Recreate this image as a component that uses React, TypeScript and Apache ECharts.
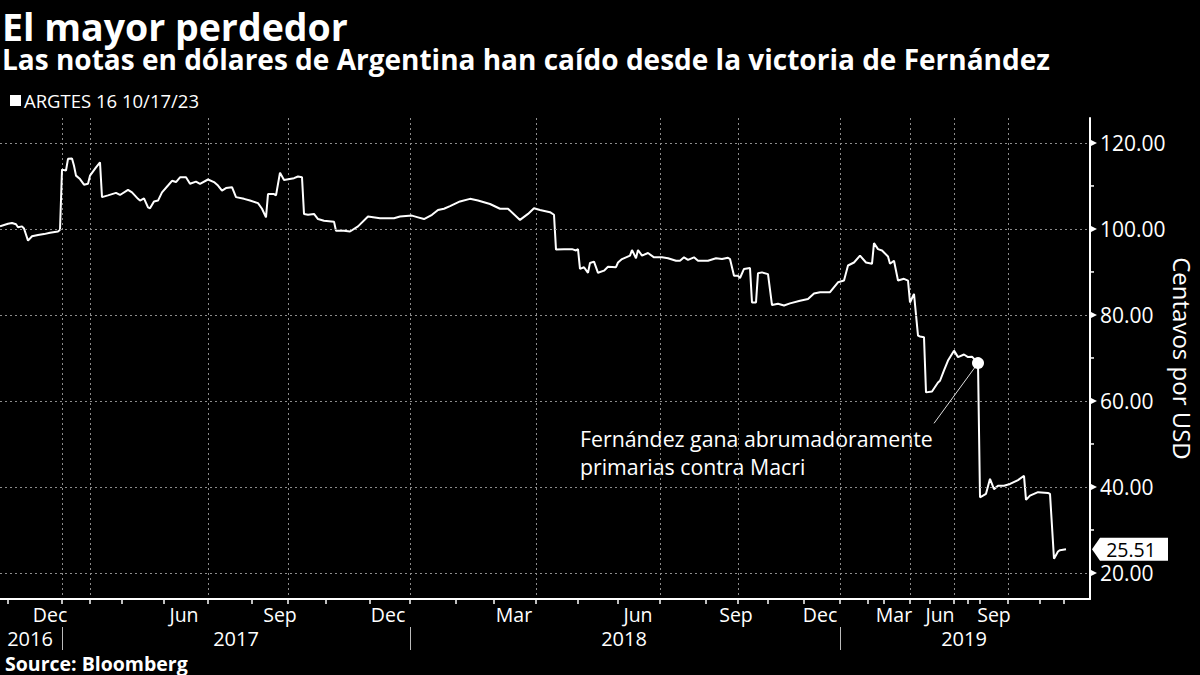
import React, { useEffect, useRef } from 'react';
import * as echarts from 'echarts';

// ---------- data ----------
const SERIES_NAME = 'ARGTES 16 10/17/23';
const OBS_COUNT = 546; // observation slots along the (irregular) Bloomberg time axis
const obs = [
  0, 4, 6, 8, 9, 11, 12, 14, 16, 19, 22, 25, 29, 30, 31, 33, 34, 36, 37, 38, 40, 42, 44, 45, 48, 50, 51,
  54, 58, 60, 64, 66, 69, 70, 72, 74, 75, 77, 79, 81, 84, 86, 88, 90, 93, 95, 98, 100, 104, 107, 109, 111,
  113, 116, 118, 122, 125, 129, 131, 133, 134, 137, 138, 140, 142, 147, 149, 151, 152, 154, 157, 159, 162,
  167, 168, 172, 175, 179, 184, 190, 197, 200, 206, 209, 212, 216, 219, 222, 225, 230, 235, 239, 245, 250,
  254, 260, 264, 267, 270, 275, 277, 278, 282, 286, 288, 289, 290, 292, 294, 295, 297, 299, 302, 304, 308,
  309, 311, 313, 315, 316, 318, 319, 321, 324, 327, 331, 334, 338, 340, 342, 344, 347, 349, 354, 358, 361,
  364, 365, 367, 369, 370, 372, 375, 376, 378, 379, 381, 384, 386, 389, 392, 395, 400, 404, 407, 410, 415,
  419, 422, 424, 427, 430, 433, 436, 437, 439, 441, 444, 445, 447, 449, 452, 454, 455, 457, 459, 460, 462,
  463, 466, 469, 470, 472, 474, 477, 479, 482, 484, 486, 489, 490, 493, 495, 497, 499, 502, 505, 509, 512,
  513, 515, 519, 524, 525, 527, 529, 530, 533,
];
const price = [
  100.6, 101.2, 101.4, 101.1, 100.4, 100.6, 100.1, 97.3, 98.3, 98.6, 98.8, 99.1, 99.4, 99.8, 113.8, 113.6,
  116.3, 116.4, 114.7, 112.4, 111.6, 110.3, 110.5, 112.4, 114.3, 115.5, 107.4,
  107.8, 108.4, 107.9, 109.1, 108.5, 107.0, 106.6, 107.1, 105.0, 104.8, 106.4, 106.6, 108.5, 110.1, 111.2,
  110.9, 112.0, 112.0, 110.5, 111.0, 110.5, 111.5, 110.9, 110.1, 108.9,
  109.5, 109.7, 107.4, 107.0, 106.6, 106.0, 104.7, 102.7, 108.1, 108.1, 107.8, 113.1, 111.4, 111.8, 112.2,
  112.0, 103.5, 103.3, 103.5, 102.3, 101.9,
  101.7, 99.6, 99.6, 99.4, 100.6, 102.9, 102.5, 102.5, 102.9, 103.1, 102.7, 102.3, 103.3, 104.4, 104.7,
  105.3, 106.4, 107.0, 106.6, 105.8, 104.7,
  104.7, 102.1, 103.5, 104.8, 104.4, 103.9, 103.3, 95.2, 95.3, 95.3, 95.0, 95.3, 90.7, 91.1, 89.8, 92.1,
  92.4, 89.8, 90.3, 91.2, 91.1,
  92.2, 93.0, 93.4, 93.8, 95.1, 93.2, 95.1, 93.8, 94.4, 93.4, 93.4, 93.2, 92.6, 92.6, 93.4, 92.8, 93.4,
  92.6, 92.6, 93.2, 93.0,
  93.3, 93.0, 89.1, 89.1, 88.6, 90.7, 90.9, 82.9, 82.9, 89.7, 89.9, 89.5, 82.3, 82.6, 82.2, 82.7, 83.3,
  83.7, 85.0, 85.3, 85.3,
  87.6, 88.0, 91.5, 92.2, 93.8, 92.2, 91.9, 96.7, 95.3, 95.0, 93.6, 91.9, 92.6, 88.0, 88.4, 88.0, 82.9,
  84.9, 75.2, 75.0, 74.8,
  62.0, 62.2, 64.3, 64.7, 67.1, 69.4, 71.7, 70.2, 70.8, 70.2, 70.3, 68.8, 37.6, 38.4, 41.9, 39.5, 40.3,
  40.3, 40.7, 41.6, 42.6,
  37.0, 38.0, 38.8, 38.6, 38.4, 23.3, 25.0, 25.3, 25.51,
];
const tickObs = [4, 31, 45, 61, 82, 104, 126, 144, 163, 185, 205, 228, 247, 268, 289, 309, 330, 353, 369,
  384, 402, 420, 434, 442, 455, 465, 477, 484, 490, 504, 520, 532];
const gridObs = [31, 45, 104, 144, 205, 268, 330, 369, 420, 455, 477, 504];
const monthLabelObs = [25, 92, 140, 194, 257, 319, 368, 410, 447, 470, 497];
const monthLabels = ['Dec', 'Jun', 'Sep', 'Dec', 'Mar', 'Jun', 'Sep', 'Dec', 'Mar', 'Jun', 'Sep'];
const yearLabelObs = [15, 118, 312, 482];
const yearLabels = ['2016', '2017', '2018', '2019'];
const yearSepObs = [31, 205, 420];
const yTicks = [20, 40, 60, 80, 100, 120];
const yMinorTicks = [30, 50, 70, 90, 110];
const Y_MIN = 13.95;
const Y_MAX = 125.8;
const EVENT_OBS = 489;
const EVENT_VALUE = 68.8;
const ANNOTATION = ['Fernández gana abrumadoramente', 'primarias contra Macri'];

const FONT = '"Open Sans", "Noto Sans", sans-serif';

export default function App() {
  const ref = useRef<HTMLDivElement>(null);
  useEffect(() => {
    if (!ref.current) return;
    document.documentElement.style.overflow = 'hidden';
    const chart = echarts.init(ref.current, null, { renderer: 'svg', width: 1200, height: 675 });
    const cats = Array.from({ length: OBS_COUNT }, (_, i) => String(i));
    const lastObs = OBS_COUNT - 1;
    const lastValue = price[price.length - 1];
    const tickSet = new Set(tickObs);
    const gridSet = new Set(gridObs);
    const monthMap: Record<number, string> = {};
    monthLabelObs.forEach((o, i) => (monthMap[o] = monthLabels[i]));
    const yearMap: Record<number, string> = {};
    yearLabelObs.forEach((o, i) => (yearMap[o] = yearLabels[i]));
    const yearSepSet = new Set(yearSepObs);
    const lineData = obs.map((o, i) => [o, price[i]]);

    const option: any = {
      animation: false,
      backgroundColor: '#000',
      textStyle: { fontFamily: FONT },
      grid: { left: 0, right: 110, top: 118, bottom: 76, containLabel: false, outerBoundsMode: 'none' },
      legend: {
        left: 10, top: 91, padding: 0, itemWidth: 11, itemHeight: 11, itemGap: 6,
        data: [{ name: SERIES_NAME, icon: 'rect' }],
        textStyle: { color: '#fff', fontSize: 18.5, fontFamily: FONT, padding: [0, 0, 0, -2] },
        selectedMode: false,
      },
      xAxis: [
        {
          type: 'category', data: cats, boundaryGap: false, position: 'bottom',
          axisLine: { lineStyle: { color: '#fff', width: 2 } },
          axisTick: { show: true, interval: (i: number) => tickSet.has(i), length: 5, lineStyle: { color: '#fff', width: 1.5 } },
          axisLabel: {
            interval: (i: number) => monthMap[i] !== undefined,
            formatter: (v: string) => monthMap[Number(v)] ?? '',
            color: '#fff', fontSize: 19.5, lineHeight: 20, margin: 5, fontFamily: FONT,
          },
          splitLine: { show: true, interval: (i: number) => gridSet.has(i), lineStyle: { color: '#8c8c8c', width: 1, type: [2, 3] } },
        },
        {
          type: 'category', data: cats, boundaryGap: false, position: 'bottom', offset: 28,
          axisLine: { show: false },
          axisTick: { show: true, interval: (i: number) => yearSepSet.has(i), length: 23, lineStyle: { color: '#bbb', width: 1 } },
          axisLabel: {
            interval: (i: number) => yearMap[i] !== undefined,
            formatter: (v: string) => yearMap[Number(v)] ?? '',
            color: '#fff', fontSize: 20, lineHeight: 20, margin: 1, fontFamily: FONT,
          },
          splitLine: { show: false },
        },
      ],
      yAxis: {
        type: 'value', position: 'right', min: Y_MIN, max: Y_MAX,
        axisLine: { show: true, lineStyle: { color: '#fff', width: 2 } },
        axisTick: { show: false },
        splitLine: { show: false },
        axisLabel: {
          color: '#fff', fontSize: 21, lineHeight: 20, margin: 10, fontFamily: FONT,
          formatter: (v: number) => (yTicks.includes(v) ? v.toFixed(2) : ''),
        },
        name: 'Centavos por USD', nameLocation: 'middle', nameRotate: -90, nameGap: 80,
        nameMoveOverlap: false,
        nameTextStyle: { color: '#fff', fontSize: 24, fontFamily: FONT },
      },
      series: [
        {
          name: 'minor', type: 'scatter', xAxisIndex: 0, z: 1, silent: true,
          data: yMinorTicks.map((v) => [lastObs, v]),
          symbol: 'rect', symbolSize: [4, 1.5], symbolOffset: [2, 0],
          itemStyle: { color: '#fff', opacity: 1 },
          markLine: {
            silent: true, symbol: 'none', label: { show: false },
            lineStyle: { color: '#8c8c8c', width: 1, type: [2, 3] },
            data: yTicks.map((v) => ({ yAxis: v })),
          },
        },
        {
          name: 'major', type: 'scatter', xAxisIndex: 0, z: 4, silent: true,
          data: yTicks.map((v) => [lastObs, v]),
          symbol: 'triangle', symbolRotate: -90, symbolSize: [7, 7], symbolOffset: [3.5, 0],
          itemStyle: { color: '#fff', opacity: 1 },
        },
        {
          name: SERIES_NAME, type: 'line', xAxisIndex: 0, z: 3,
          data: lineData, showSymbol: false, symbol: 'none',
          lineStyle: { color: '#fff', width: 2 }, itemStyle: { color: '#fff' },
          markPoint: {
            silent: true, symbol: 'circle', symbolSize: 12,
            itemStyle: { color: '#fff' }, label: { show: false },
            data: [{ coord: [EVENT_OBS, EVENT_VALUE] }],
          },
          markLine: {
            silent: true, symbol: 'none', label: { show: false },
            lineStyle: { color: '#ddd', width: 1, type: 'solid' },
            data: [[{ coord: [EVENT_OBS, EVENT_VALUE] }, { coord: [EVENT_OBS - 22, EVENT_VALUE - 14] }]],
          },
        },
        {
          name: 'last', type: 'scatter', xAxisIndex: 0, z: 5, silent: true,
          data: [[lastObs, lastValue]],
          symbol: 'path://M0,11.5 L8,0 L76,0 L76,23 L8,23 Z', symbolSize: [76, 23], symbolOffset: [40, 0],
          symbolKeepAspect: false,
          itemStyle: { color: '#fff', opacity: 1 },
          label: {
            show: true, position: 'inside', color: '#000', fontSize: 19.5, lineHeight: 18, fontFamily: FONT,
            formatter: () => lastValue.toFixed(2), offset: [1, 0],
          },
        },
      ],
      graphic: [
        { type: 'text', left: 2, top: 7, style: { text: 'El mayor perdedor', fill: '#fff', fontSize: 37.5, lineHeight: 36, fontWeight: 'bold', fontFamily: FONT } },
        { type: 'text', left: 2, top: 45, style: { text: 'Las notas en dólares de Argentina han caído desde la victoria de Fernández', fill: '#fff', fontSize: 28, lineHeight: 28, fontWeight: 'bold', fontFamily: FONT } },
        { type: 'text', left: 580, top: 424, style: { text: ANNOTATION.join('\n'), fill: '#fff', fontSize: 21.3, lineHeight: 28, fontFamily: FONT } },
        { type: 'text', left: 5, top: 653, style: { text: 'Source: Bloomberg', fill: '#fff', fontSize: 19.5, lineHeight: 20, fontWeight: 'bold', fontFamily: FONT } },
      ],
    };
    chart.setOption(option);
    return () => chart.dispose();
  }, []);
  return (
    <div
      ref={ref}
      style={{ position: 'fixed', left: 0, top: 0, width: 1200, height: 675, background: '#000', overflow: 'hidden' }}
    />
  );
}
